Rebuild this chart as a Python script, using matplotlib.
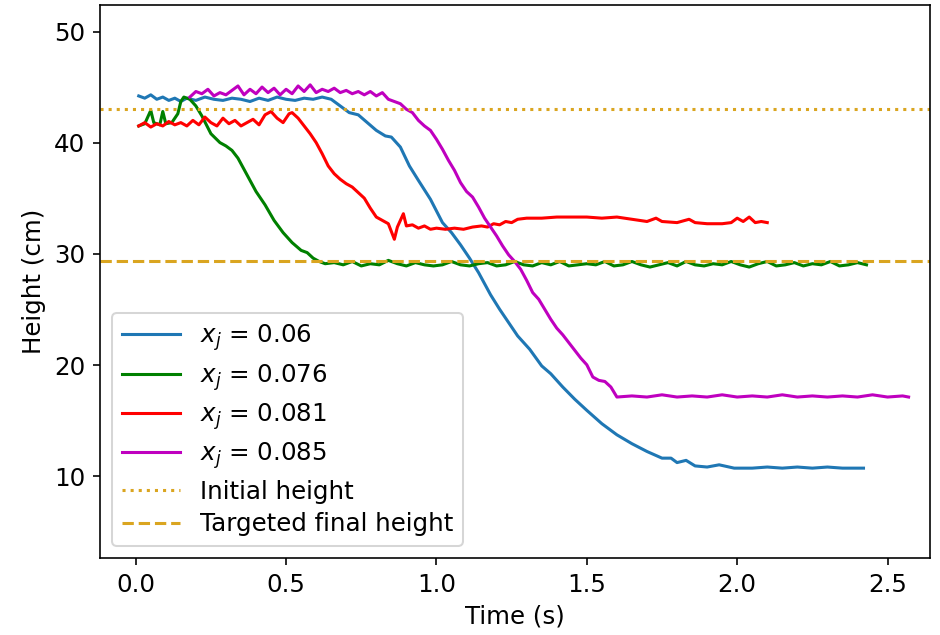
import numpy as np
import matplotlib
matplotlib.use("Agg")
import matplotlib.pyplot as plt

# x_j = 0.06
t_blue = [0.01, 0.03, 0.05, 0.07, 0.09, 0.11, 0.13, 0.15, 0.17, 0.20, 0.23, 0.26, 0.29, 0.32,
          0.35, 0.38, 0.41, 0.44, 0.47, 0.50, 0.53, 0.56, 0.59, 0.62, 0.65, 0.68, 0.71, 0.74,
          0.77, 0.80, 0.83, 0.85, 0.88, 0.91, 0.94, 0.98, 1.02, 1.05, 1.08, 1.11, 1.14, 1.18,
          1.21, 1.24, 1.27, 1.31, 1.35, 1.38, 1.42, 1.46, 1.50, 1.55, 1.60, 1.65, 1.70, 1.75,
          1.78, 1.80, 1.83, 1.86, 1.90, 1.94, 1.99, 2.05, 2.10, 2.15, 2.20, 2.25, 2.30, 2.35, 2.42]
h_blue = [44.2, 44.0, 44.3, 43.9, 44.1, 43.8, 44.0, 43.7, 44.0, 43.8, 44.1, 43.9, 43.8, 44.0,
          43.9, 43.7, 44.0, 43.8, 44.1, 43.9, 43.8, 44.0, 43.9, 44.1, 43.9, 43.3, 42.7, 42.5,
          41.8, 41.1, 40.6, 40.5, 39.6, 37.9, 36.6, 34.9, 32.8, 31.9, 30.8, 29.6, 28.3, 26.3,
          25.0, 23.8, 22.6, 21.4, 19.9, 19.2, 18.0, 16.9, 15.9, 14.7, 13.7, 12.9, 12.2, 11.6,
          11.6, 11.2, 11.4, 10.9, 10.8, 11.0, 10.7, 10.7, 10.8, 10.7, 10.8, 10.7, 10.8, 10.7, 10.7]

# x_j = 0.076
t_green = [0.01, 0.03, 0.05, 0.06, 0.08, 0.09, 0.10, 0.12, 0.14, 0.15, 0.16, 0.18, 0.20, 0.22,
           0.25, 0.28, 0.30, 0.32, 0.34, 0.36, 0.38, 0.40, 0.43, 0.46, 0.49, 0.52, 0.55, 0.57,
           0.59, 0.61, 0.63, 0.66, 0.69, 0.72, 0.75, 0.78, 0.81, 0.84, 0.87, 0.90, 0.93, 0.96,
           0.99, 1.02, 1.05, 1.08, 1.11, 1.14, 1.17, 1.20, 1.23, 1.26, 1.29, 1.32, 1.35, 1.38,
           1.41, 1.44, 1.47, 1.50, 1.53, 1.56, 1.59, 1.62, 1.65, 1.68, 1.71, 1.74, 1.77, 1.80,
           1.83, 1.86, 1.89, 1.92, 1.95, 1.98, 2.01, 2.04, 2.07, 2.10, 2.13, 2.16, 2.19, 2.22,
           2.25, 2.28, 2.31, 2.34, 2.37, 2.40, 2.43]
h_green = [41.5, 41.7, 42.9, 41.8, 41.6, 42.8, 41.7, 41.8, 42.6, 43.7, 44.1, 43.9, 43.3, 42.4,
           40.8, 40.0, 39.7, 39.3, 38.6, 37.6, 36.6, 35.6, 34.4, 33.0, 31.9, 31.0, 30.3, 30.1,
           29.6, 29.3, 29.1, 29.2, 29.0, 29.3, 28.9, 29.1, 29.0, 29.4, 29.1, 28.9, 29.2, 29.0,
           28.9, 29.0, 29.3, 29.0, 28.9, 29.1, 29.2, 28.9, 29.0, 29.3, 29.0, 28.9, 29.2, 29.0,
           29.3, 28.9, 29.0, 29.1, 29.0, 29.3, 28.9, 29.0, 29.3, 29.0, 28.8, 29.0, 29.2, 28.9,
           29.3, 29.0, 28.9, 29.1, 29.0, 29.3, 29.0, 28.8, 29.1, 29.3, 28.9, 29.0, 29.2, 28.9,
           29.1, 29.0, 29.3, 28.9, 29.0, 29.2, 29.0]

# x_j = 0.081
t_red = [0.01, 0.03, 0.05, 0.07, 0.09, 0.11, 0.13, 0.15, 0.17, 0.19, 0.21, 0.23, 0.25, 0.27,
         0.29, 0.31, 0.33, 0.35, 0.37, 0.39, 0.41, 0.43, 0.45, 0.47, 0.49, 0.51, 0.52, 0.54,
         0.56, 0.58, 0.60, 0.62, 0.64, 0.66, 0.68, 0.70, 0.72, 0.74, 0.76, 0.78, 0.80, 0.82,
         0.84, 0.86, 0.87, 0.89, 0.90, 0.92, 0.94, 0.96, 0.98, 1.00, 1.03, 1.06, 1.09, 1.12,
         1.15, 1.17, 1.19, 1.21, 1.23, 1.25, 1.27, 1.30, 1.35, 1.40, 1.45, 1.50, 1.55, 1.60,
         1.65, 1.70, 1.73, 1.75, 1.80, 1.84, 1.86, 1.90, 1.95, 1.98, 2.00, 2.02, 2.04, 2.06,
         2.08, 2.10]
h_red = [41.5, 41.8, 41.4, 41.7, 41.5, 41.9, 41.6, 41.8, 41.5, 42.0, 41.6, 42.3, 41.8, 41.5,
         42.2, 41.7, 42.0, 41.5, 41.8, 42.1, 41.6, 42.5, 42.8, 42.2, 41.8, 42.6, 42.7, 42.2,
         41.5, 40.8, 40.0, 39.0, 37.9, 37.2, 36.7, 36.3, 36.0, 35.5, 35.0, 34.1, 33.3, 33.0,
         32.7, 31.3, 32.4, 33.6, 32.5, 32.6, 32.3, 32.5, 32.2, 32.3, 32.2, 32.3, 32.2, 32.4,
         32.5, 32.4, 32.7, 32.6, 32.9, 32.8, 33.1, 33.2, 33.2, 33.3, 33.3, 33.3, 33.2, 33.3,
         33.1, 32.9, 33.2, 32.9, 32.8, 33.1, 32.8, 32.7, 32.7, 32.8, 33.2, 32.9, 33.3, 32.8,
         32.9, 32.8]

# x_j = 0.085
t_mag = [0.18, 0.20, 0.22, 0.24, 0.26, 0.28, 0.30, 0.32, 0.34, 0.36, 0.38, 0.40, 0.42, 0.44,
         0.46, 0.48, 0.50, 0.52, 0.54, 0.56, 0.58, 0.60, 0.62, 0.64, 0.66, 0.68, 0.70, 0.72,
         0.74, 0.76, 0.78, 0.80, 0.82, 0.84, 0.86, 0.88, 0.90, 0.92, 0.94, 0.96, 0.98, 1.00,
         1.02, 1.04, 1.06, 1.08, 1.10, 1.12, 1.14, 1.16, 1.18, 1.20, 1.22, 1.24, 1.26, 1.28,
         1.30, 1.32, 1.34, 1.36, 1.38, 1.40, 1.42, 1.44, 1.46, 1.48, 1.50, 1.52, 1.54, 1.56,
         1.58, 1.60, 1.65, 1.70, 1.75, 1.80, 1.85, 1.90, 1.95, 2.00, 2.05, 2.10, 2.15, 2.20,
         2.25, 2.30, 2.35, 2.40, 2.45, 2.50, 2.55, 2.57]
h_mag = [44.1, 44.6, 44.4, 44.8, 44.2, 44.5, 44.3, 44.7, 45.1, 44.3, 44.8, 44.4, 45.0, 44.5,
         44.9, 44.3, 44.8, 44.4, 45.1, 44.6, 45.2, 44.5, 44.8, 44.6, 44.9, 44.5, 44.7, 44.4,
         44.6, 44.3, 44.6, 44.2, 44.5, 43.9, 43.7, 43.5, 43.0, 42.7, 42.0, 41.5, 41.1, 40.3,
         39.4, 38.4, 37.5, 36.4, 35.6, 35.1, 34.2, 33.2, 32.4, 31.6, 30.7, 29.9, 29.3, 28.6,
         27.6, 26.5, 25.9, 25.0, 24.1, 23.3, 22.7, 22.0, 21.3, 20.6, 20.0, 18.9, 18.6, 18.5,
         18.0, 17.1, 17.2, 17.1, 17.3, 17.1, 17.2, 17.1, 17.3, 17.1, 17.2, 17.1, 17.3, 17.1,
         17.2, 17.1, 17.2, 17.1, 17.3, 17.1, 17.2, 17.1]

initial_height = 43.0
target_height = 29.3

plt.rcParams['font.size'] = 12

fig = plt.figure(figsize=(6.4, 4.325), dpi=146.875)
ax = fig.add_subplot(111)
fig.subplots_adjust(left=0.106, right=0.989, top=0.992, bottom=0.121)

ax.plot(t_blue, h_blue, color='#1f77b4', label=r'$x_j$ = 0.06')
ax.plot(t_green, h_green, color='green', label=r'$x_j$ = 0.076')
ax.plot(t_red, h_red, color='red', label=r'$x_j$ = 0.081')
ax.plot(t_mag, h_mag, color='m', label=r'$x_j$ = 0.085')
ax.axhline(initial_height, color='goldenrod', linestyle=':', label='Initial height')
ax.axhline(target_height, color='goldenrod', linestyle='--', label='Targeted final height')

ax.set_xlim(-0.12, 2.64)
ax.set_ylim(2.6, 52.4)
ax.set_xticks([0.0, 0.5, 1.0, 1.5, 2.0, 2.5])
ax.set_yticks([10, 20, 30, 40, 50])
ax.set_xlabel('Time (s)')
ax.set_ylabel('Height (cm)')
ax.legend(loc='lower left', labelspacing=0.35, handlelength=2.4)

fig.savefig('out.png', dpi=146.875)
